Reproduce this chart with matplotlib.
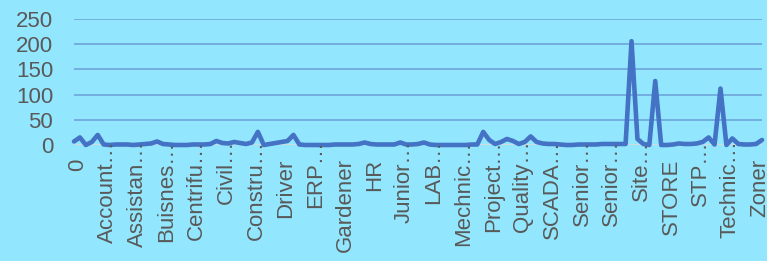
import matplotlib
matplotlib.use("Agg")
import matplotlib.pyplot as plt
from matplotlib.transforms import offset_copy

plt.rcParams['font.family'] = ['Liberation Sans', 'DejaVu Sans']

# one value per category (117 categories, every 5th one is labelled)
values = [
    7, 15, 0, 6, 20, 1, 0, 1, 1, 1, 0, 1, 2, 3, 7, 2, 1, 0, 0, 0,
    1, 1, 1, 2, 8, 4, 3, 6, 4, 2, 5, 26, 0, 2, 4, 6, 8, 20, 1, 0,
    0, 0, 0, 0, 1, 1, 1, 1, 2, 5, 2, 1, 1, 1, 1, 5, 1, 1, 2, 5,
    1, 0, 0, 0, 0, 0, 0, 1, 1, 26, 10, 2, 6, 12, 8, 2, 6, 17, 6, 3,
    2, 2, 1, 0, 0, 1, 1, 1, 1, 2, 2, 2, 2, 2, 206, 12, 2, 0, 127, 0,
    0, 1, 3, 2, 2, 3, 6, 15, 1, 112, 0, 13, 2, 1, 1, 2, 10,
]
labels = [
    "0", "Account…", "Assistan…", "Buisnes…", "Centrifu…", "Civil…",
    "Constru…", "Driver", "ERP…", "Gardener", "HR", "Junior…", "LAB…",
    "Mechnic…", "Project…", "Quality…", "SCADA…", "Senior…", "Senior…",
    "Site…", "STORE", "STP…", "Technic…", "Zoner",
]
label_step = 5
yticks = [0, 50, 100, 150, 200, 250]

bg = "#92E7FF"
txt = "#595959"

fig = plt.figure(figsize=(7.67, 2.61), dpi=100, facecolor=bg)
ax = fig.add_axes([74 / 767, 1 - 145 / 261, 688 / 767, 126 / 261])
ax.set_facecolor(bg)

for v in yticks[1:]:
    ax.axhline(v, color="#6A9FD8", lw=1.1, zorder=1)
ax.axhline(0, color="#D9D9D9", lw=1.2, zorder=1)

ax.plot(range(len(values)), values, color="#4472C4", lw=3.3,
        solid_joinstyle="round", solid_capstyle="round", zorder=3,
        clip_on=False)

ax.set_xlim(0, len(values) - 1)
ax.set_ylim(0, 250)
ax.set_yticks(yticks)
ax.tick_params(axis="y", length=0, pad=15, labelsize=16, labelcolor=txt)
ax.set_xticks([])
for s in ax.spines.values():
    s.set_visible(False)

# category labels, truncated ones run up into the plot like in Excel
for j, lab in enumerate(labels):
    dy = 5 if lab.endswith("…") else -13.5
    tr = offset_copy(ax.get_xaxis_transform(), fig=fig, x=4, y=dy,
                     units="dots")
    ax.text(j * label_step, 0, lab, transform=tr, rotation=90,
            ha="center", va="top", fontsize=16, color=txt, zorder=4,
            clip_on=False)

fig.savefig("out.png", dpi=100, facecolor=bg)
